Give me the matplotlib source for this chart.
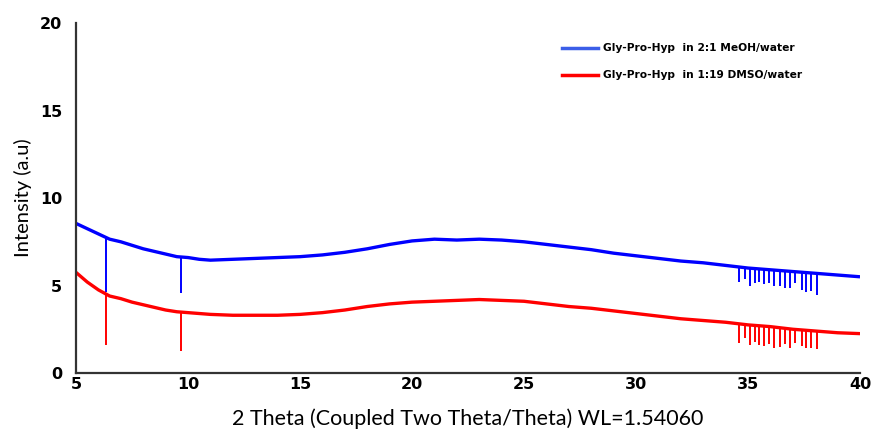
import numpy as np
import matplotlib
matplotlib.use('Agg')
import matplotlib.pyplot as plt

# baseline of the two XRD patterns (2theta in degrees, intensity a.u.)
two_theta = [5.0, 5.5, 6.0, 6.5, 7.0, 7.5, 8.0, 8.5, 9.0, 9.5, 10.0, 10.5, 11.0,
             12.0, 13.0, 14.0, 15.0, 16.0, 17.0, 18.0, 19.0, 20.0, 21.0, 22.0,
             23.0, 24.0, 25.0, 26.0, 27.0, 28.0, 29.0, 30.0, 31.0, 32.0, 33.0,
             34.0, 35.0, 36.0, 37.0, 38.0, 39.0, 40.0]
meoh = [8.55, 8.25, 7.95, 7.65, 7.5, 7.3, 7.1, 6.95, 6.8, 6.65, 6.6, 6.5, 6.45,
        6.5, 6.55, 6.6, 6.65, 6.75, 6.9, 7.1, 7.35, 7.55, 7.65, 7.6,
        7.65, 7.6, 7.5, 7.35, 7.2, 7.05, 6.85, 6.7, 6.55, 6.4, 6.3,
        6.15, 6.0, 5.9, 5.8, 5.7, 5.6, 5.5]
dmso = [5.75, 5.2, 4.75, 4.4, 4.25, 4.05, 3.9, 3.75, 3.6, 3.5, 3.45, 3.4, 3.35,
        3.3, 3.3, 3.3, 3.35, 3.45, 3.6, 3.8, 3.95, 4.05, 4.1, 4.15,
        4.2, 4.15, 4.1, 3.95, 3.8, 3.7, 3.55, 3.4, 3.25, 3.1, 3.0,
        2.9, 2.75, 2.65, 2.5, 2.4, 2.3, 2.25]

# sharp downward dips (position, bottom of dip)
dip_x = [6.34, 9.67, 34.61, 34.87, 35.09, 35.31, 35.50, 35.73, 35.95, 36.16,
         36.43, 36.65, 36.88, 37.10, 37.40, 37.59, 37.80, 38.07]
meoh_dip = [4.65, 4.6, 5.2, 5.4, 5.0, 5.15, 5.2, 5.1, 5.15, 5.0,
            4.95, 4.85, 4.85, 5.15, 4.75, 4.65, 4.7, 4.45]
dmso_dip = [1.6, 1.26, 1.7, 2.0, 1.6, 1.75, 1.6, 1.55, 1.65, 1.45,
            1.5, 1.65, 1.45, 1.7, 1.55, 1.45, 1.45, 1.35]

labels = ['Gly-Pro-Hyp  in 2:1 MeOH/water', 'Gly-Pro-Hyp  in 1:19 DMSO/water']

fig = plt.figure(figsize=(8.74, 4.34), dpi=100)
ax = fig.add_axes([0.087, 0.1406, 0.897, 0.806])

for y, dips, c in [(meoh, meoh_dip, 'blue'), (dmso, dmso_dip, 'red')]:
    ax.plot(two_theta, y, color=c, lw=2.4, solid_capstyle='butt')
    tops = np.interp(dip_x, two_theta, y)
    ax.vlines(dip_x, dips, tops, color=c, lw=1.4)

# legend handles
h1, = ax.plot([], [], color='#3b5ee8', lw=2.5, label=labels[0])
h2, = ax.plot([], [], color='red', lw=2.5, label=labels[1])
leg = ax.legend(handles=[h1, h2], loc='upper left', bbox_to_anchor=(0.607, 0.97),
                frameon=False, prop={'weight': 'bold', 'size': 7.7},
                handlelength=3.4, handletextpad=0.5, labelspacing=1.6)

ax.set_xlim(5, 40)
ax.set_ylim(0, 20)
ax.set_xticks(np.arange(5, 41, 5))
ax.set_yticks(np.arange(0, 21, 5))
ax.tick_params(length=0, labelsize=11.5)
ax.tick_params(axis='y', pad=10)
ax.tick_params(axis='x', pad=3)
for t in ax.get_xticklabels() + ax.get_yticklabels():
    t.set_fontweight('bold')
for s in ['top', 'right']:
    ax.spines[s].set_visible(False)
for s in ['left', 'bottom']:
    ax.spines[s].set_color('#333333')
    ax.spines[s].set_linewidth(1.6)

ax.set_ylabel('Intensity (a.u)', fontsize=14.5, labelpad=6, family=['Lato', 'DejaVu Sans'])
ax.set_xlabel('2 Theta (Coupled Two Theta/Theta) WL=1.54060', fontsize=15.5,
              family=['Lato', 'DejaVu Sans'], labelpad=12)

fig.savefig('out.png', dpi=100)
